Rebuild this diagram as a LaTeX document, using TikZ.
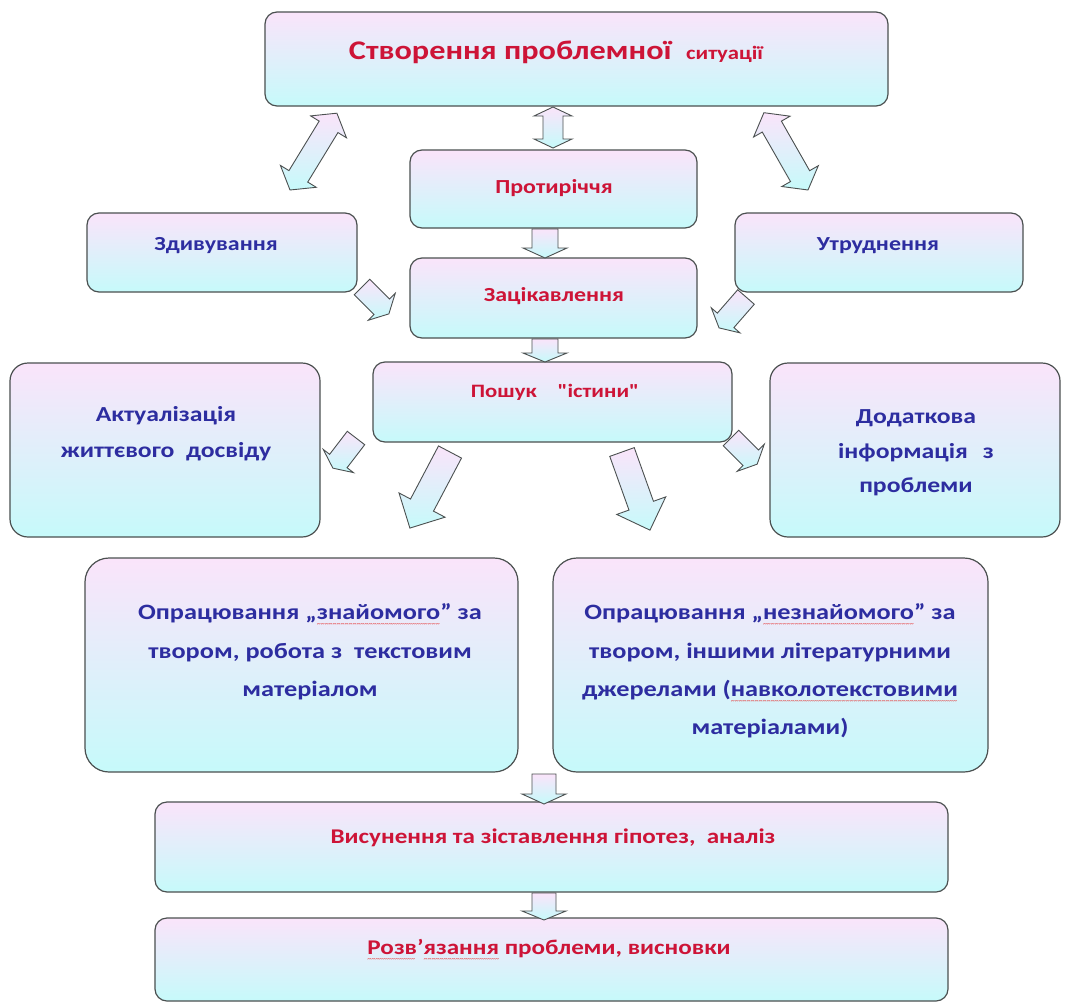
\documentclass[tikz,border=0pt]{standalone}
\usepackage{fontspec}
\newfontfamily\cf{Carlito}[FakeStretch=1.2]
\newfontfamily\wf{Carlito}
\definecolor{boxtop}{RGB}{250,228,250}
\definecolor{boxbot}{RGB}{198,250,250}
\definecolor{tred}{RGB}{205,20,55}
\definecolor{tblue}{RGB}{45,45,160}
\definecolor{edgec}{RGB}{75,80,80}
\definecolor{wavec}{RGB}{230,60,60}
\newcommand\redwave[1]{\setbox0=\hbox{#1}\leavevmode\rlap{\copy0}\hbox to \wd0{\color{wavec}\wf\mdseries\fontsize{8}{8}\selectfont\leaders\hbox{\raisebox{-7bp}{\char"7E}}\hfill}}
\newcommand\blockarrow[8]{%
  \coordinate (#1) at (#2,#3);
  \begin{scope}[shift={(#1)}, rotate=#4]
    \draw[arrowsty] (0,#6) -- ({#5-#8},#6) -- ({#5-#8},#7) -- (#5,0) -- ({#5-#8},-#7) -- ({#5-#8},-#6) -- (0,-#6) -- cycle;
  \end{scope}}
\newcommand\dblarrow[8]{%
  \coordinate (#1) at (#2,#3);
  \begin{scope}[shift={(#1)}, rotate=#4]
    \draw[arrowsty] (0,0) -- (#8,#7) -- (#8,#6) -- ({#5-#8},#6) -- ({#5-#8},#7) -- (#5,0) -- ({#5-#8},-#7) -- ({#5-#8},-#6) -- (#8,-#6) -- (#8,-#7) -- cycle;
  \end{scope}}
\begin{document}
\begin{tikzpicture}[x=1bp,y=-1bp,
  box/.style={draw=edgec, line width=1.2bp, rounded corners=12bp, top color=boxtop, bottom color=boxbot, inner sep=0},
  arrowsty/.style={draw=edgec, line width=0.9bp, top color=boxtop, bottom color=boxbot, line join=miter},
  rt/.style={text=tred, font=\cf\bfseries\fontsize{20}{38}\selectfont, align=center, inner sep=0},
  bt/.style={text=tblue, font=\cf\bfseries\fontsize{20}{38}\selectfont, align=center, inner sep=0},
  bigt/.style={font=\cf\bfseries\fontsize{22}{38.5}\selectfont},
  midt/.style={font=\cf\bfseries\fontsize{21.5}{36}\selectfont}]
\useasboundingbox[fill=white] (0,0) rectangle (1068,1005);
% boxes
\node[box, minimum width=623bp, minimum height=94bp] (top) at (576.5,59) {};
\node[box, minimum width=287bp, minimum height=78bp] (prot) at (553.5,189) {};
\node[box, minimum width=270bp, minimum height=79bp] (zdyv) at (222,252.5) {};
\node[box, minimum width=288bp, minimum height=79bp] (utrud) at (879,252.5) {};
\node[box, minimum width=287bp, minimum height=80bp] (zats) at (553.5,298) {};
\node[box, minimum width=359bp, minimum height=80bp] (poshuk) at (552.5,402) {};
\node[box, minimum width=310bp, minimum height=174bp, rounded corners=18bp] (aktual) at (165,450) {};
\node[box, minimum width=290bp, minimum height=174bp, rounded corners=18bp] (dodat) at (915,450) {};
\node[box, minimum width=433bp, minimum height=214bp, rounded corners=24bp] (znay) at (301.5,665) {};
\node[box, minimum width=435bp, minimum height=214bp, rounded corners=24bp] (neznay) at (770.5,665) {};
\node[box, minimum width=793bp, minimum height=90bp] (vysun) at (551.5,847) {};
\node[box, minimum width=793bp, minimum height=83bp] (rozv) at (551.5,959.5) {};
% texts
\node[rt, font=\cf\bfseries\fontsize{27}{30}\selectfont] (ttop) at (556,52) {Створення проблемної\ \ {\fontsize{19}{22}\selectfont ситуації}};
\node[rt] (tprot) at (554,188) {Протиріччя};
\node[bt] (tzdyv) at (216,246) {Здивування};
\node[bt] (tutrud) at (878,246) {Утруднення};
\node[rt] (tzats) at (554,296) {Зацікавлення};
\node[rt, font=\cf\bfseries\fontsize{19}{22}\selectfont] (tposhuk) at (555,392) {Пошук\hspace{1.1em}"істини"};
\node[bt, midt] (taktual) at (166,434) {Актуалізація\\життєвого\ \ досвіду};
\node[bt, midt, font=\cf\bfseries\fontsize{21.5}{34.5}\selectfont] (tdodat) at (916,453) {Додаткова\\інформація\hspace{0.7em}з\\проблеми};
\node[bt, bigt] (tznay) at (310,652) {Опрацювання\ „\redwave{знайомого}” за\\твором, робота з\ \ текстовим\\матеріалом};
\node[bt, bigt] (tneznay) at (770,671) {Опрацювання\ „\redwave{незнайомого}” за\\твором, іншими літературними\\джерелами (\redwave{навколотекстовими}\\матеріалами)};
\node[rt, font=\cf\bfseries\fontsize{21}{25}\selectfont] (tvysun) at (553,838) {Висунення та зіставлення гіпотез,\ \ аналіз};
\node[rt, font=\cf\bfseries\fontsize{21}{25}\selectfont] (trozv) at (549,950) {\redwave{Розв}’\redwave{язання} проблеми, висновки};
% arrows
\dblarrow{a1}{553}{107}{-90}{41}{10}{19}{9}
\dblarrow{a2}{290}{190}{58.6}{90}{11}{21}{16}
\dblarrow{a3}{808}{190}{119.7}{89}{11}{21}{16}
\blockarrow{a4}{545}{229}{-90}{29}{13}{22}{10}
\blockarrow{a5}{545}{339}{-90}{23}{13}{22}{9}
\blockarrow{a6}{362}{287}{-45}{38}{11}{19}{10}
\blockarrow{a7}{746}{297}{228.9}{41}{11}{19}{10}
\blockarrow{a8}{356}{438}{232.5}{38}{11}{19}{9}
\blockarrow{a9}{731}{438}{-45}{37}{11}{19}{9}
\blockarrow{a10}{450}{452}{242.2}{86}{13}{26}{26}
\blockarrow{a11}{622}{452}{-70.3}{83}{13}{26}{26}
\blockarrow{a12}{544}{774}{-90}{30}{12}{22}{10}
\blockarrow{a13}{544}{893}{-90}{27}{12}{22}{9}
\end{tikzpicture}
\end{document}
